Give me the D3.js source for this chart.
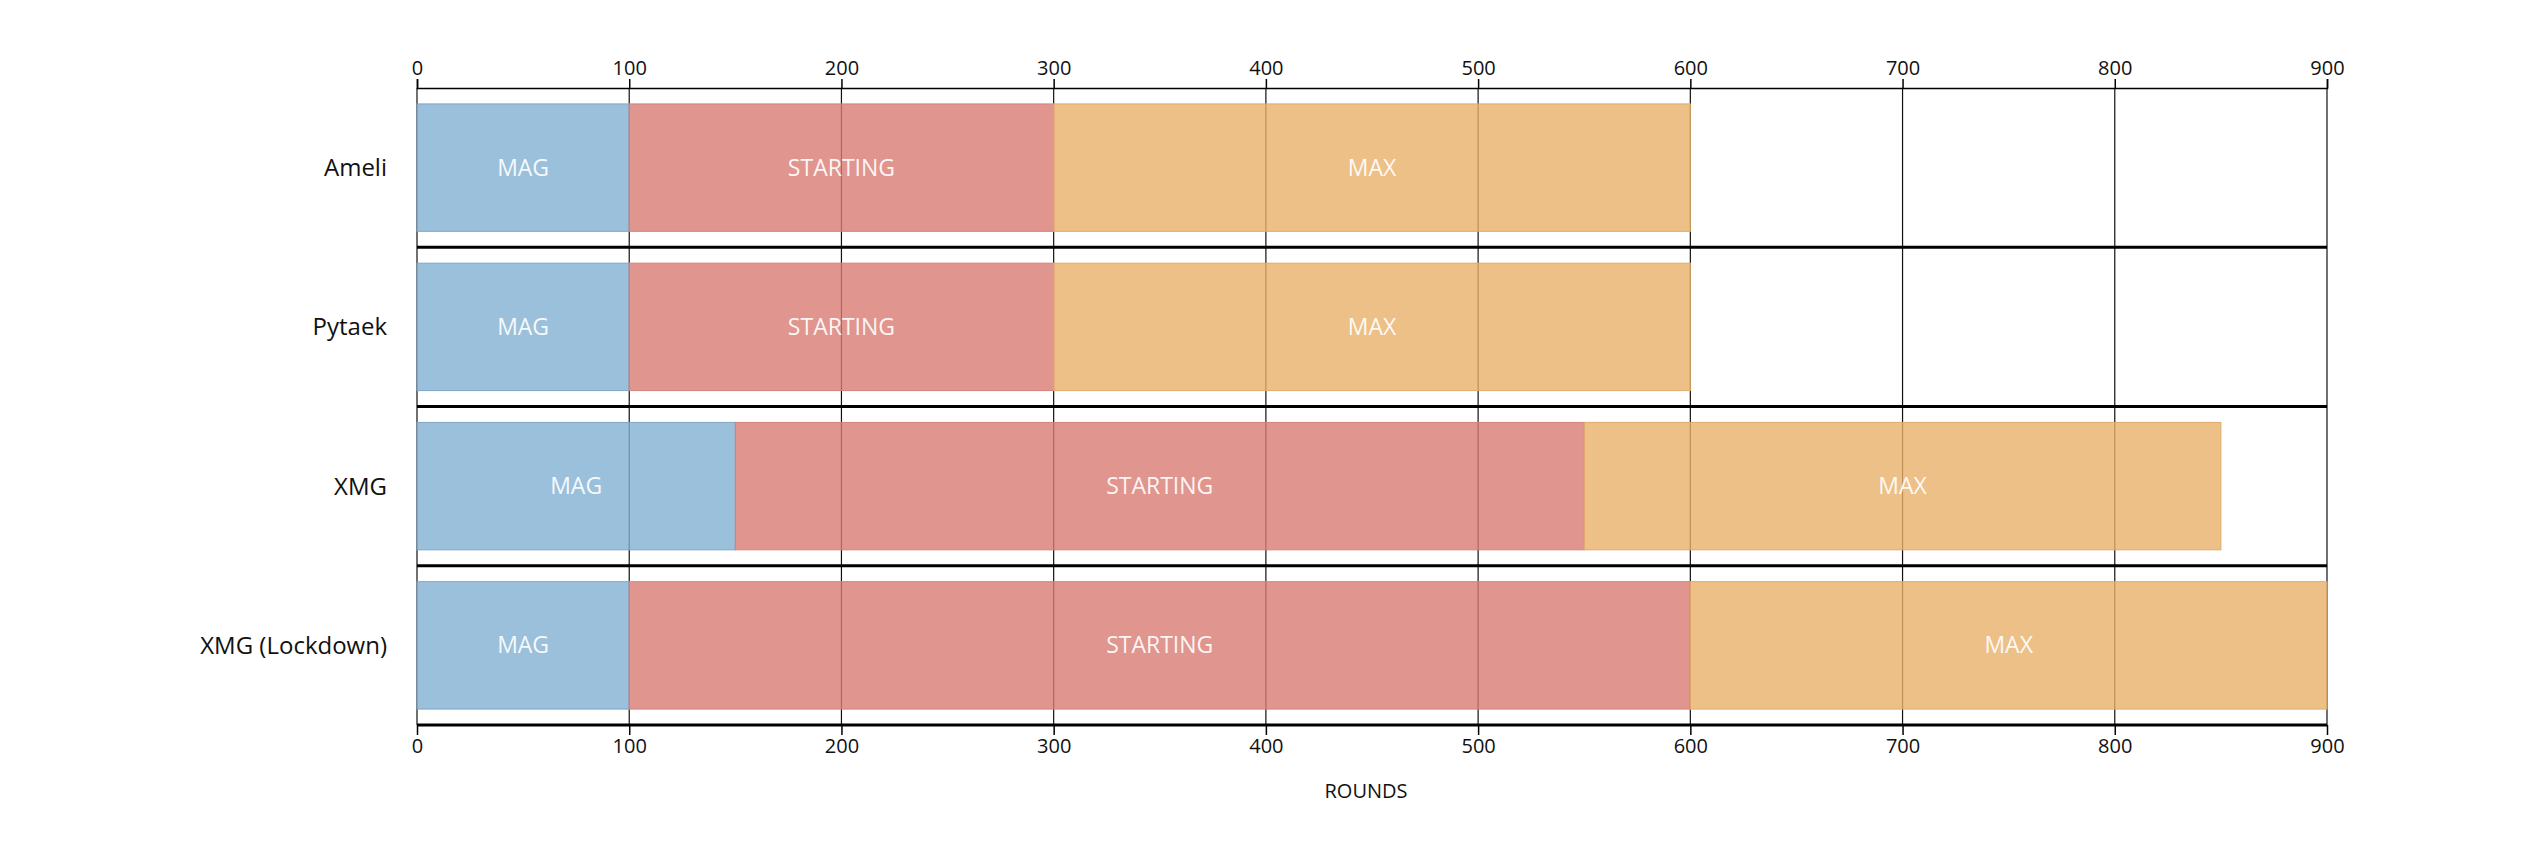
<!DOCTYPE html>
<html>
<head>
<meta charset="utf-8">
<script src="https://cdn.jsdelivr.net/npm/d3@7"></script>
<style>
  body { margin: 0; background: #fff; }
  text { font-family: "Open Sans", "Noto Sans", sans-serif; }
  .tick text { font-size: 20px; fill: #111; }
  .cat-label { font-size: 24px; fill: #111; }
  .bar-label { font-size: 23px; fill: #fff; fill-opacity: 0.92; }
  .axis-label { font-size: 20px; fill: #111; }
</style>
</head>
<body>
<svg width="2546" height="848"></svg>
<script>
const categories = ['Ameli', 'Pytaek', 'XMG', 'XMG (Lockdown)'];
const phases = ['MAG', 'STARTING', 'MAX'];
const magRounds = [100, 100, 150, 100];
const startingRounds = [200, 200, 400, 500];
const maxRounds = [300, 300, 300, 300];
const xTicks = [0, 100, 200, 300, 400, 500, 600, 700, 800, 900];
const xAxisLabel = 'ROUNDS';

const svg = d3.select('svg');
const width = +svg.attr('width');
const height = +svg.attr('height');

const margin = { top: 88, right: 219, bottom: 123, left: 417 };
const innerWidth = width - margin.left - margin.right;
const innerHeight = height - margin.top - margin.bottom;

// colours are shown at 0.8 opacity so the grid shows through like the original
const colors = { MAG: '#82b0d3', STARTING: '#d87c73', MAX: '#e8b069' };
const strokes = { MAG: '#7ea6c6', STARTING: '#d3827c', MAX: '#e0aa6c' };

const data = categories.map((c, i) => ({
  name: c, MAG: magRounds[i], STARTING: startingRounds[i], MAX: maxRounds[i]
}));
const series = d3.stack().keys(phases)(data);

const xScale = d3.scaleLinear().domain([0, 900]).range([0, innerWidth]);
const yScale = d3.scaleBand()
  .domain(categories)
  .range([0, innerHeight])
  .paddingInner(0.2)
  .paddingOuter(0.1);
const step = yScale.step();

const g = svg.append('g')
  .attr('transform', `translate(${margin.left}, ${margin.top})`);

// grid lines (under the translucent bars)
g.append('g').selectAll('line').data(xTicks)
  .enter().append('line')
  .attr('x1', d => xScale(d)).attr('x2', d => xScale(d))
  .attr('y1', 0).attr('y2', innerHeight)
  .attr('stroke', '#111')
  .attr('stroke-width', 1.2);

// bars
const layer = g.selectAll('.layer').data(series)
  .enter().append('g')
  .attr('class', 'layer');

layer.selectAll('rect').data(d => d.map(v => ({ key: d.key, v })))
  .enter().append('rect')
  .attr('x', d => xScale(d.v[0]))
  .attr('y', d => yScale(d.v.data.name))
  .attr('width', d => xScale(d.v[1]) - xScale(d.v[0]))
  .attr('height', yScale.bandwidth())
  .attr('fill', d => colors[d.key])
  .attr('fill-opacity', 0.8)
  .attr('stroke', d => strokes[d.key])
  .attr('stroke-width', 1);

layer.selectAll('text').data(d => d.map(v => ({ key: d.key, v })))
  .enter().append('text')
  .attr('class', 'bar-label')
  .attr('x', d => (xScale(d.v[0]) + xScale(d.v[1])) / 2)
  .attr('y', d => yScale(d.v.data.name) + yScale.bandwidth() / 2)
  .attr('dy', '0.35em')
  .style('text-anchor', 'middle')
  .text(d => d.key);

// row separators
g.append('g').selectAll('line').data(categories)
  .enter().append('line')
  .attr('x1', 0).attr('x2', innerWidth)
  .attr('y1', d => yScale(d) + yScale.bandwidth() + step * 0.1)
  .attr('y2', d => yScale(d) + yScale.bandwidth() + step * 0.1)
  .attr('stroke', '#000')
  .attr('stroke-width', 3);

// category labels
g.append('g').selectAll('text').data(categories)
  .enter().append('text')
  .attr('class', 'cat-label')
  .attr('x', -30)
  .attr('y', d => yScale(d) + yScale.bandwidth() / 2)
  .attr('dy', '0.35em')
  .style('text-anchor', 'end')
  .text(d => d);

// axes
const topAxis = d3.axisTop(xScale).tickValues(xTicks).tickSize(9).tickPadding(4);
const topG = g.append('g').call(topAxis);
topG.select('.domain').attr('stroke-width', 1.5);
topG.selectAll('.tick line').attr('stroke-width', 1.5);

const bottomAxis = d3.axisBottom(xScale).tickValues(xTicks).tickSize(10).tickPadding(4);
const bottomG = g.append('g').call(bottomAxis)
  .attr('transform', `translate(0, ${innerHeight})`);
bottomG.select('.domain').remove();
bottomG.selectAll('.tick line').attr('stroke-width', 1.5);

g.selectAll('.tick text').style('font-family', '"Open Sans", sans-serif');

g.append('text')
  .attr('class', 'axis-label')
  .attr('x', innerWidth / 2 - 6)
  .attr('y', innerHeight + 73)
  .style('text-anchor', 'middle')
  .text(xAxisLabel);
</script>
</body>
</html>
